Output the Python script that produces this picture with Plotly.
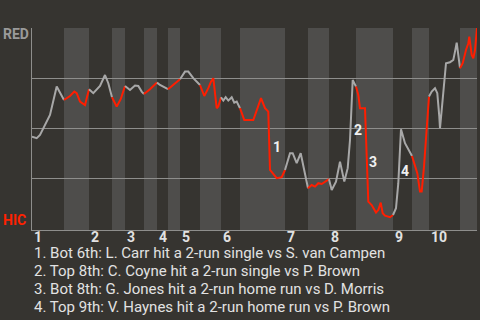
import plotly.graph_objects as go

# ---- data ----
# event position along the game (x) and RED win probability (wp)
event_x = [0, 4.7, 8, 13, 18, 24.7, 32, 38, 42.3, 44.7, 48, 53, 57, 61.3, 68, 73, 76.3, 80,
           84.7, 88.7, 93, 98, 103, 106.3, 109.7, 112, 118, 125, 128, 136, 141.3, 148, 153,
           156.3, 161.3, 168, 172.3, 176.3, 179, 181.3, 183, 184.7, 186.3, 189, 191.3, 193.7,
           196.3, 199.7, 202.3, 204.7, 208, 212.3, 221.3, 229, 233, 236.3, 238, 240.7, 244.7,
           249.7, 253, 258, 260.7, 264.7, 268.7, 273, 276, 279.7, 283, 286.3, 289.7, 293, 297,
           299.7, 304, 308, 312.3, 315.7, 318, 320.7, 324, 326.3, 328, 333, 336.3, 339.7, 344,
           346.3, 348.7, 350.7, 353, 358, 361, 364, 366.3, 368, 369, 373, 376.3, 380, 382,
           385.3, 388, 389.7, 392, 394.7, 397, 399.7, 403, 405.3, 407.3, 408, 409.7, 412, 414,
           418, 421.3, 423, 424.7, 426.3, 428, 430.7, 434, 436.3, 437.3, 439.7, 441.3, 443, 445]
wp = [0.457, 0.449, 0.465, 0.515, 0.565, 0.707, 0.64, 0.66, 0.682, 0.674, 0.632, 0.615, 0.694,
      0.674, 0.71, 0.765, 0.724, 0.654, 0.607, 0.644, 0.71, 0.69, 0.712, 0.71, 0.682, 0.67,
      0.694, 0.727, 0.715, 0.694, 0.715, 0.744, 0.782, 0.782, 0.749, 0.715, 0.66, 0.699, 0.732,
      0.749, 0.657, 0.599, 0.607, 0.654, 0.637, 0.654, 0.637, 0.654, 0.627, 0.632, 0.599, 0.54,
      0.54, 0.649, 0.599, 0.582, 0.29, 0.274, 0.249, 0.254, 0.29, 0.374, 0.374, 0.324, 0.374,
      0.274, 0.199, 0.215, 0.207, 0.224, 0.22, 0.232, 0.244, 0.19, 0.232, 0.332, 0.232, 0.299,
      0.44, 0.74, 0.707, 0.665, 0.599, 0.599, 0.132, 0.115, 0.077, 0.09, 0.127, 0.074, 0.062,
      0.054, 0.065, 0.099, 0.224, 0.39, 0.494, 0.424, 0.39, 0.36, 0.324, 0.274, 0.182, 0.182,
      0.307, 0.507, 0.657, 0.682, 0.699, 0.674, 0.557, 0.499, 0.59, 0.74, 0.824, 0.829, 0.84,
      0.882, 0.927, 0.865, 0.799, 0.824, 0.89, 0.924, 0.957, 0.865, 0.849, 0.89, 1.0]

# half-inning boundaries (top 1, bot 1, top 2, ...), last value = end of game
half_bounds = [0, 32, 57, 80, 93, 112, 125, 136, 148, 168, 189, 208, 253, 276, 297, 324,
               361, 380, 397, 428, 445]
inning_labels = ["1", "2", "3", "4", "5", "6", "7", "8", "9", "10"]

key_play_ids = ["1", "2", "3", "4"]
key_play_x = [245, 325.5, 340.5, 373]
key_play_wp = [0.405, 0.49, 0.33, 0.285]
key_play_text = [
    "1. Bot 6th: L. Carr hit a 2-run single vs S. van Campen",
    "2. Top 8th: C. Coyne hit a 2-run single vs P. Brown",
    "3. Bot 8th: G. Jones hit a 2-run home run vs D. Morris",
    "4. Top 9th: V. Haynes hit a 2-run home run vs P. Brown",
]
team_top = "RED"
team_bottom = "HIC"

# ---- styles ----
BG = "#363430"
BAND = "#4e4d4b"
GRID = "#8e8e8c"
GRAY_LINE = "#a8a8a8"
RED_LINE = "#ff1e00"
TEXT = "#e2e2e2"
FONT = "Roboto"

fig = go.Figure()

shapes = []
for i in range(len(half_bounds) - 1):
    a, b = half_bounds[i], half_bounds[i + 1]
    if i % 2 == 1:
        shapes.append(dict(type="rect", xref="x", yref="paper", x0=a, x1=b, y0=0, y1=1,
                           fillcolor=BAND, line=dict(width=0), layer="below"))
    seg_x = [x for x in event_x if a <= x <= b]
    seg_y = [y for x, y in zip(event_x, wp) if a <= x <= b]
    fig.add_trace(go.Scatter(
        x=seg_x, y=seg_y, mode="lines",
        line=dict(color=RED_LINE if i % 2 == 1 else GRAY_LINE, width=2),
        hoverinfo="skip", showlegend=False, cliponaxis=False))

annotations = []
for k, lab in enumerate(inning_labels):
    annotations.append(dict(x=half_bounds[2 * k], y=-0.036, xref="x", yref="paper",
                            text=f"<b>{lab}</b>", showarrow=False, xanchor="left",
                            yanchor="middle", xshift=0,
                            font=dict(family=FONT, size=14, color=TEXT)))
for pid, px_, py_ in zip(key_play_ids, key_play_x, key_play_wp):
    annotations.append(dict(x=px_, y=py_, xref="x", yref="y", text=f"<b>{pid}</b>",
                            showarrow=False, xanchor="center", yanchor="middle",
                            font=dict(family=FONT, size=14, color="#f0f0f0")))
line_y = [253.3, 271, 289, 306.7]
for t, ly in zip(key_play_text, line_y):
    annotations.append(dict(x=0, y=-(ly - 230) / 202, xref="paper", yref="paper",
                            text=t, showarrow=False, xanchor="left", yanchor="middle",
                            font=dict(family=FONT, size=15, color=TEXT)))
annotations.append(dict(x=-31 / 445, y=1 - (34 - 28) / 202, xref="paper", yref="paper",
                        text=f"<b>{team_top}</b>", showarrow=False, xanchor="left",
                        yanchor="middle", font=dict(family=FONT, size=14, color="#9a9a9a")))
annotations.append(dict(x=-31 / 445, y=1 - (219.5 - 28) / 202, xref="paper", yref="paper",
                        text=f"<b>{team_bottom}</b>", showarrow=False, xanchor="left",
                        yanchor="middle", font=dict(family=FONT, size=14, color="#ff2200")))

fig.update_layout(
    width=480, height=320,
    margin=dict(l=32, r=3, t=28, b=90),
    paper_bgcolor=BG, plot_bgcolor=BG,
    shapes=shapes, annotations=annotations,
    showlegend=False,
    xaxis=dict(range=[0, 445], showgrid=False, zeroline=False, showticklabels=False,
               ticks="", showline=True, linecolor=GRID, linewidth=1, fixedrange=True),
    yaxis=dict(range=[-0.01, 1.0], tickvals=[0.25, 0.5, 0.75, 1.0], showgrid=True,
               gridcolor=GRID, gridwidth=1, zeroline=False, showticklabels=False, ticks="",
               showline=True, linecolor=GRID, linewidth=1, fixedrange=True),
)

fig.write_html("out.html", config={"displayModeBar": False})
